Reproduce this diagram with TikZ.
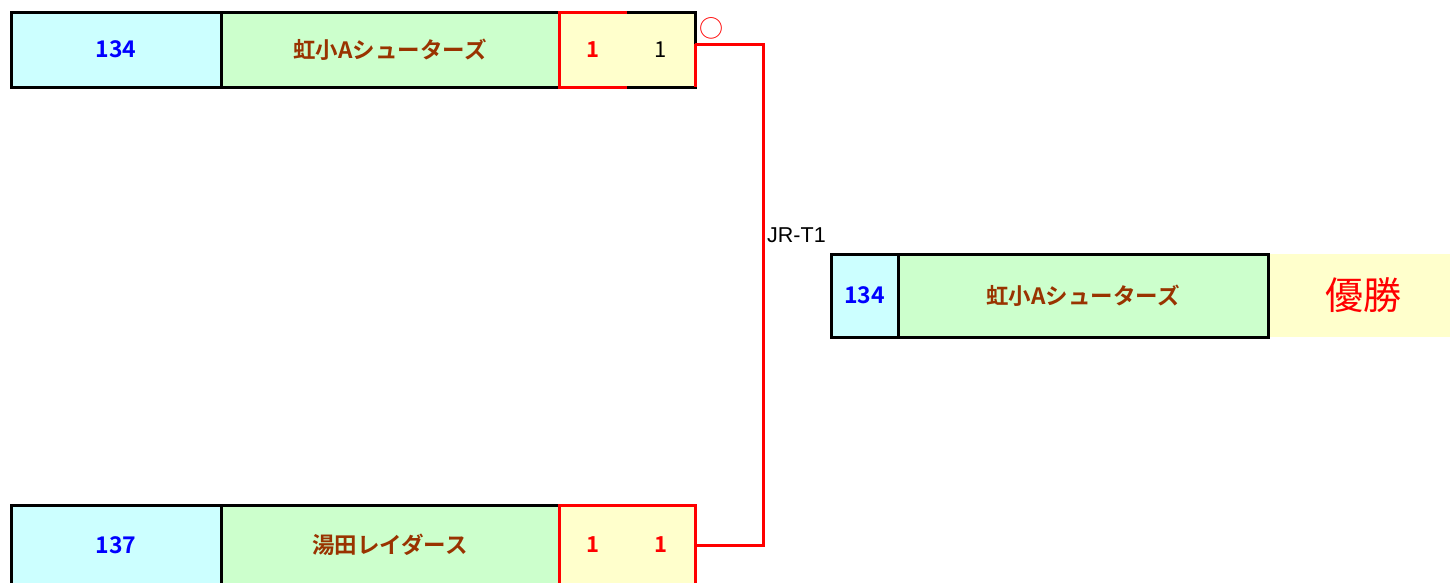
\documentclass[tikz,border=0pt]{standalone}
\usepackage{fontspec}
\newfontfamily\jp{Noto Sans CJK JP}[BoldFont={Noto Sans CJK JP Bold}]
\newfontfamily\lsans{Liberation Sans}
\definecolor{cyanf}{HTML}{CCFFFF}
\definecolor{greenf}{HTML}{CCFFCC}
\definecolor{yellowf}{HTML}{FFFFCC}
\definecolor{brownt}{HTML}{993300}
\definecolor{bluet}{HTML}{0000FF}
\definecolor{redt}{HTML}{FF0000}
\begin{document}
\begin{tikzpicture}[x=1pt,y=-1pt,
  cell/.style={anchor=north west, inner sep=0pt, outer sep=0pt, draw=none},
  numcell/.style={cell, fill=cyanf, text=bluet, font=\jp\bfseries\fontsize{23}{23}\selectfont},
  teamcell/.style={cell, fill=greenf, text=brownt, font=\jp\bfseries\fontsize{22.5}{22.5}\selectfont},
  scorecell/.style={cell, fill=yellowf, font=\jp\fontsize{22}{22}\selectfont},
  redscore/.style={scorecell, text=redt, font=\jp\bfseries\fontsize{22}{22}\selectfont},
  blk/.style={line width=3pt, draw=black},
  rd/.style={line width=3pt, draw=redt},
]
\useasboundingbox (0,0) rectangle (1450,582);

% top row
\node[numcell, minimum width=210pt, minimum height=75pt] (t1num) at (11,12) {134};
\node[teamcell, minimum width=338pt, minimum height=75pt] (t1team) at (221,12) {虹小Aシューターズ};
\node[redscore, minimum width=68pt, minimum height=75pt] (t1s1) at (559,12) {1};
\node[scorecell, minimum width=68pt, minimum height=75pt, text=black] (t1s2) at (627,12) {1};

% bottom row
\node[numcell, minimum width=210pt, minimum height=80pt] (b1num) at (11,505) {137};
\node[teamcell, minimum width=338pt, minimum height=80pt] (b1team) at (221,505) {湯田レイダース};
\node[redscore, minimum width=68pt, minimum height=80pt] (b1s1) at (559,505) {1};
\node[redscore, minimum width=68pt, minimum height=80pt] (b1s2) at (627,505) {1};

% winner row
\node[numcell, minimum width=67pt, minimum height=83pt] (wnum) at (831,254) {134};
\node[teamcell, minimum width=370pt, minimum height=83pt] (wteam) at (898,254) {虹小Aシューターズ};
\node[cell, fill=yellowf, minimum width=182pt, minimum height=83pt, text=redt, font=\jp\fontsize{38}{38}\selectfont] (wres) at (1268,254) {\hspace{8pt}優勝};

% top row borders
\draw[blk] (t1num.north west) rectangle (t1s2.south east);
\draw[blk] (t1team.north west) -- (t1team.south west);
\draw[blk] (t1team.north east) -- (t1team.south east);
\draw[rd] (t1s1.north east) -- (t1s1.north west) -- (t1s1.south west) -- (t1s1.south east);
\coordinate (c1) at (695,44);
\draw[rd] (c1) -- (t1s2.south east);

% bottom row borders
\draw[blk] (b1num.south west) -- (b1num.north west) -- (b1s1.north west);
\draw[blk] (b1team.north west) -- (b1team.south west);
\draw[rd] (b1s1.south west) rectangle (b1s2.north east);

% winner borders
\draw[blk] (wnum.north west) rectangle (wteam.south east);
\draw[blk] (wteam.north west) -- (wteam.south west);

% connector
\coordinate (jx) at (763,0);
\draw[rd] (c1) -- (c1 -| jx) |- (b1s2.east);

% labels
\node[anchor=west, inner sep=0pt, font=\lsans\fontsize{21.5}{21.5}\selectfont] (lbl) at (767,235) {JR-T1};
\node[inner sep=0pt, text=redt, font=\jp\fontsize{24}{24}\selectfont] (win) at (711,28) {○};
\end{tikzpicture}
\end{document}
